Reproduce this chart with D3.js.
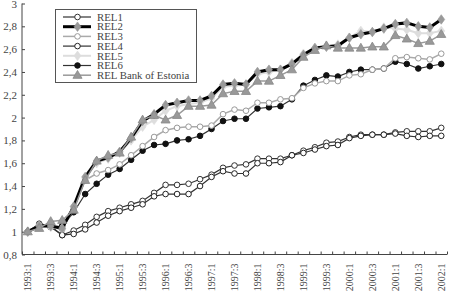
<!DOCTYPE html>
<html>
<head>
<meta charset="utf-8">
<script src="https://cdn.jsdelivr.net/npm/d3@7"></script>
<style>
  body { margin: 0; background: #fff; }
  svg { display: block; font-family: "Liberation Serif", "DejaVu Serif", serif; }
</style>
</head>
<body>
<div id="chart"></div>
<script>
// quarters on the x axis
var quarters = ["1993:1","1993:2","1993:3","1993:4","1994:1","1994:2","1994:3","1994:4",
  "1995:1","1995:2","1995:3","1995:4","1996:1","1996:2","1996:3","1996:4",
  "1997:1","1997:2","1997:3","1997:4","1998:1","1998:2","1998:3","1998:4",
  "1999:1","1999:2","1999:3","1999:4","2000:1","2000:2","2000:3","2000:4",
  "2001:1","2001:2","2001:3","2001:4","2002:1"];

var yTicks = [0.8, 1, 1.2, 1.4, 1.6, 1.8, 2, 2.2, 2.4, 2.6, 2.8, 3];

var rel1 = [1.00,1.07,1.05,0.97,1.01,1.06,1.13,1.18,1.21,1.24,1.27,1.34,1.41,1.41,1.42,1.46,1.50,1.56,1.58,1.59,
  1.64,1.64,1.64,1.67,1.71,1.74,1.78,1.79,1.83,1.85,1.85,1.85,1.87,1.88,1.88,1.88,1.91];
var rel2 = [1.00,1.05,1.05,1.03,1.22,1.48,1.62,1.65,1.70,1.82,1.97,2.03,2.11,2.13,2.15,2.15,2.19,2.29,2.30,2.29,
  2.40,2.42,2.42,2.47,2.55,2.61,2.62,2.63,2.70,2.73,2.75,2.78,2.82,2.83,2.80,2.79,2.86];
var rel3 = [1.00,1.06,1.04,1.02,1.20,1.45,1.51,1.54,1.59,1.67,1.75,1.83,1.89,1.91,1.92,1.92,1.93,2.03,2.07,2.06,
  2.13,2.13,2.16,2.17,2.26,2.30,2.32,2.32,2.37,2.38,2.42,2.43,2.52,2.53,2.52,2.51,2.56];
var rel4 = [1.00,1.06,1.04,0.97,0.98,1.02,1.08,1.14,1.18,1.21,1.24,1.31,1.33,1.33,1.33,1.40,1.48,1.53,1.51,1.51,
  1.60,1.60,1.61,1.67,1.69,1.72,1.75,1.76,1.82,1.84,1.85,1.85,1.86,1.84,1.83,1.84,1.84];
var rel5 = [1.00,1.05,1.04,1.03,1.22,1.47,1.60,1.64,1.69,1.80,1.92,1.98,2.06,2.10,2.12,2.13,2.17,2.27,2.28,2.29,
  2.38,2.40,2.42,2.48,2.56,2.61,2.63,2.64,2.70,2.76,2.75,2.79,2.78,2.77,2.74,2.74,2.76];
var rel6 = [1.00,1.06,1.04,1.05,1.17,1.33,1.42,1.50,1.55,1.63,1.71,1.76,1.77,1.80,1.81,1.84,1.90,1.97,1.99,1.99,
  2.08,2.09,2.10,2.16,2.28,2.33,2.37,2.36,2.40,2.42,2.42,2.43,2.49,2.47,2.43,2.45,2.47];
var relBank = [1.00,1.03,1.09,1.10,1.19,1.45,1.62,1.67,1.69,1.83,1.98,2.02,1.98,2.02,2.10,2.10,2.11,2.21,2.23,2.23,
  2.32,2.32,2.37,2.42,2.53,2.59,2.63,2.61,2.61,2.61,2.62,2.62,2.72,2.69,2.65,2.67,2.73];

var seriesNames = ["REL1", "REL2", "REL3", "REL4", "REL5", "REL6", "REL  Bank of Estonia"];

// styles per series (index matches seriesNames)
var styles = [
  {data: rel1, line: "#333", width: 1.2, shape: "circle", fill: "#fff", stroke: "#333"},
  {data: rel2, line: "#000", width: 3, shape: "diamond", fill: "#999", stroke: "#999"},
  {data: rel3, line: "#aaa", width: 1.5, shape: "circle", fill: "#fff", stroke: "#999"},
  {data: rel4, line: "#333", width: 1.2, shape: "circle", fill: "#fff", stroke: "#222"},
  {data: rel5, line: "#ddd", width: 2, shape: "diamond", fill: "#ddd", stroke: "#ddd"},
  {data: rel6, line: "#333", width: 1.2, shape: "circle", fill: "#111", stroke: "#111"},
  {data: relBank, line: "#999", width: 1.5, shape: "triangle", fill: "#999", stroke: "#888"}
];
var drawOrder = [0, 3, 5, 2, 4, 1, 6];

var width = 451, height = 298;
var margin = {top: 3.5, right: 4, bottom: 43.5, left: 22};

var svg = d3.select("#chart").append("svg")
  .attr("width", width).attr("height", height);

var x = d3.scaleBand().domain(quarters).range([margin.left, width - margin.right]);
var xb = d3.scaleLinear().domain([0, quarters.length]).range([margin.left, width - margin.right]);
var y = d3.scaleLinear().domain([0.8, 3]).range([height - margin.bottom, margin.top]);

function fmt(v) {
  return (v % 1 === 0) ? String(v) : v.toFixed(1).replace(".", ",");
}

// y axis
svg.append("g")
  .attr("transform", `translate(${margin.left},0)`)
  .call(d3.axisLeft(y).tickValues(yTicks).tickSize(-3).tickPadding(5).tickFormat(fmt))
  .call(g => g.selectAll("line, path").attr("stroke", "#444"))
  .call(g => g.select(".domain").attr("d", `M0,${y(0.8)}V${y(3)}`))
  .call(g => g.selectAll("text").attr("fill", "#444").style("font-size", "11px")
    .style("font-family", "'Liberation Serif', serif"));

// x axis ticks at quarter boundaries
svg.append("g")
  .attr("transform", `translate(0,${y(0.8)})`)
  .call(d3.axisBottom(xb).tickValues(d3.range(quarters.length + 1)).tickSize(-3).tickFormat(""))
  .call(g => g.selectAll("line, path").attr("stroke", "#444"))
  .call(g => g.select(".domain").attr("d", `M${margin.left},0H${width - margin.right}`));

// x labels, every second quarter
svg.append("g")
  .attr("transform", `translate(0,${y(0.8)})`)
  .call(d3.axisBottom(x).tickSize(0).tickFormat((d, i) => i % 2 === 0 ? d : ""))
  .call(g => g.select(".domain").remove())
  .call(g => g.selectAll("text")
    .attr("transform", "rotate(-90)")
    .attr("x", -9).attr("y", 0).attr("dy", "0.35em")
    .style("text-anchor", "end")
    .attr("fill", "#444").style("font-size", "10px")
    .style("font-family", "'Liberation Serif', serif"));

var line = d3.line().x((d, i) => x(quarters[i]) + x.bandwidth() / 2).y(d => y(d));

function marker(sel, st, cx, cy) {
  if (st.shape === "circle") {
    sel.append("circle").attr("cx", cx).attr("cy", cy).attr("r", 2.8)
      .attr("fill", st.fill).attr("stroke", st.stroke).attr("stroke-width", 1);
  } else if (st.shape === "diamond") {
    sel.append("path").attr("d", d3.symbol(d3.symbolDiamond, 26)())
      .attr("transform", `translate(${cx},${cy}) scale(1.25,1)`)
      .attr("fill", st.fill).attr("stroke", st.stroke).attr("stroke-width", 0.6);
  } else {
    sel.append("path").attr("d", d3.symbol(d3.symbolTriangle, 36)())
      .attr("transform", `translate(${cx},${cy + 0.5})`)
      .attr("fill", st.fill).attr("stroke", st.stroke).attr("stroke-width", 0.8);
  }
}

drawOrder.forEach(k => {
  var st = styles[k];
  var g = svg.append("g");
  g.append("path").datum(st.data).attr("d", line)
    .attr("fill", "none").attr("stroke", st.line).attr("stroke-width", st.width);
  st.data.forEach((v, i) => marker(g, st, x(quarters[i]) + x.bandwidth() / 2, y(v)));
});

// legend
var lg = svg.append("g");
lg.append("rect").attr("x", 55.5).attr("y", 9.5).attr("width", 141).attr("height", 73)
  .attr("fill", "#fff").attr("stroke", "#555").attr("stroke-width", 1);
seriesNames.forEach((name, k) => {
  var st = styles[k];
  var ly = 17 + k * 9.7;
  lg.append("line").attr("x1", 63).attr("x2", 91).attr("y1", ly).attr("y2", ly)
    .attr("stroke", st.line).attr("stroke-width", st.width);
  marker(lg, st, 77.5, ly);
  lg.append("text").attr("x", 97).attr("y", ly).attr("dy", "0.35em")
    .attr("fill", "#444").style("font-size", "10.8px").text(name);
});
</script>
</body>
</html>
